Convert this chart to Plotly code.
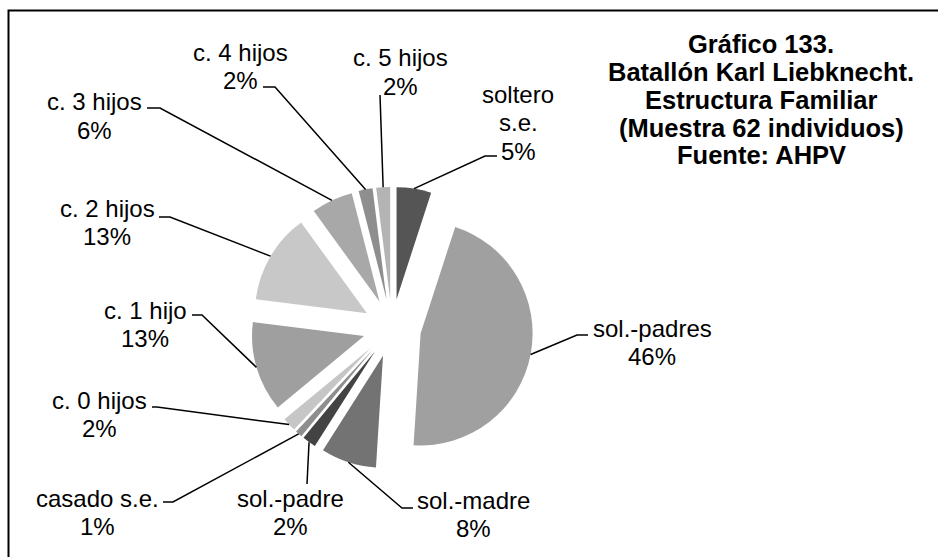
import math
import plotly.graph_objects as go

W, H = 938, 557

# data (percent of 62 individuals)
categories = ["soltero s.e.", "sol.-padres", "sol.-madre", "sol.-padre", "casado s.e.",
              "c. 0 hijos", "c. 1 hijo", "c. 2 hijos", "c. 3 hijos", "c. 4 hijos", "c. 5 hijos"]
values = [5, 46, 8, 2, 1, 2, 13, 13, 6, 2, 2]
colors = ["#555555", "#a0a0a0", "#737373", "#434343", "#8e8e8e",
          "#c6c6c6", "#9f9f9f", "#c8c8c8", "#a8a8a8", "#8e8e8e", "#b4b4b4"]

title_lines = ["Gráfico 133.", "Batallón Karl Liebknecht.", "Estructura Familiar",
               "(Muestra 62 individuos)", "Fuente: AHPV"]

# layout (pixels)
CX, CY, R, PULL = 392, 328, 112, 0.26
LINE_H = 28
label_xy = [(518, 95), (652, 328), (474, 500), (290, 498), (97, 498), (99, 400),
            (145, 310), (107, 208), (94, 102), (241, 53), (400, 58)]
leader_pts = [
    [(485, 156), (497, 156)],
    [(577, 335), (588, 335)],
    [(402, 508), (413, 508)],
    [(307, 484)],
    [(173, 502), (163, 502)],
    [(157, 407), (152, 407)],
    [(202, 315), (192, 315)],
    [(170, 217), (159, 217)],
    [(160, 108), (147, 108)],
    [(275, 87), (263, 87)],
    [(380, 95)],
]


def px(x):
    return x / W


def py(y):
    return 1 - y / H


half = R * (1 + PULL)
fig = go.Figure(go.Pie(
    labels=categories,
    values=values,
    sort=False,
    direction="clockwise",
    rotation=0,
    pull=[PULL] * len(values),
    marker=dict(colors=colors, line=dict(width=0)),
    textinfo="none",
    hoverinfo="label+percent",
    showlegend=False,
    domain=dict(x=[px(CX - half), px(CX + half)], y=[py(CY + half), py(CY - half)]),
))

total = sum(values)
shapes = []
annotations = []
cum = 0
for i, v in enumerate(values):
    mid = (cum + v / 2) / total * 2 * math.pi
    cum += v
    dx, dy = math.sin(mid), -math.cos(mid)
    ox, oy = CX + (1 + PULL) * R * dx, CY + (1 + PULL) * R * dy
    pts = [(ox, oy)] + leader_pts[i]
    path = "M " + " L ".join(f"{px(x):.5f},{py(y):.5f}" for x, y in pts)
    shapes.append(dict(type="path", path=path, xref="paper", yref="paper",
                       line=dict(color="black", width=1.5)))

    pct = round(v / total * 100)
    lines = categories[i].replace("soltero s.e.", "soltero<br>s.e.").split("<br>") + [f"{pct}%"]
    lx, ly = label_xy[i]
    for k, t in enumerate(lines):
        annotations.append(dict(x=px(lx), y=py(ly + k * LINE_H), xref="paper", yref="paper",
                                text=t, showarrow=False, xanchor="center", yanchor="middle",
                                font=dict(family="Liberation Sans, Arial", size=24, color="black")))

for k, t in enumerate(title_lines):
    annotations.append(dict(x=px(761), y=py(44.5 + k * 27.7), xref="paper", yref="paper",
                            text=f"<b>{t}</b>", showarrow=False, xanchor="center", yanchor="middle",
                            font=dict(family="Liberation Sans, Arial", size=25.5, color="black")))

# chart frame (cut off at right and bottom like the original)
shapes.append(dict(type="rect", xref="paper", yref="paper",
                   x0=px(8.5), y0=py(H + 10), x1=px(W + 10), y1=py(10.5),
                   line=dict(color="black", width=2)))

fig.update_layout(
    width=W, height=H,
    margin=dict(l=0, r=0, t=0, b=0),
    paper_bgcolor="white",
    plot_bgcolor="white",
    shapes=shapes,
    annotations=annotations,
)

fig.write_html("out.html", config={"displayModeBar": False},
               post_script="document.body.style.margin='0';")
